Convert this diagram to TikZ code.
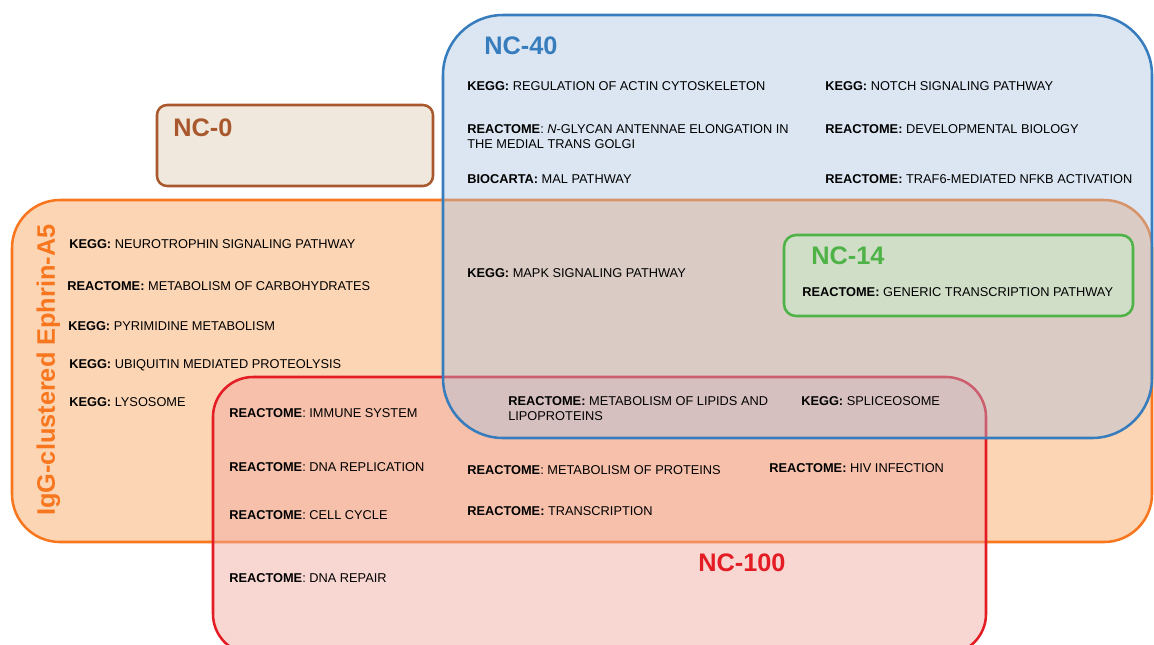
\documentclass[tikz,border=0pt]{standalone}
\usepackage{fontspec}
\setmainfont{Liberation Sans}
\usepackage{xcolor}
\definecolor{ncblue}{RGB}{55,125,190}
\definecolor{ncbluefill}{RGB}{168,193,222}
\definecolor{igorange}{RGB}{247,118,30}
\definecolor{igorangefill}{RGB}{247,150,70}
\definecolor{ncred}{RGB}{228,28,36}
\definecolor{ncredfill}{RGB}{240,169,160}
\definecolor{ncgreen}{RGB}{78,178,70}
\definecolor{ncgreenfill}{RGB}{208,222,200}
\definecolor{ncbrown}{RGB}{168,88,44}
\definecolor{ncbrownfill}{RGB}{241,232,221}
\newcommand{\pwy}[2]{\textbf{#1:} #2}
\newcommand{\pwx}[2]{\textbf{#1}: #2}
\tikzset{
  setbox/.style={draw, line width=1.9pt},
  settitle/.style={anchor=base west, inner sep=0pt, font=\fontsize{19}{22}\selectfont\bfseries},
  termlabel/.style={anchor=base west, inner sep=0pt, text=black, font=\fontsize{9.6}{11.3}\selectfont},
  termblock/.style={termlabel, anchor=north west, align=left},
}

\begin{document}
\begin{tikzpicture}[x=0.75pt, y=-0.75pt]
  \useasboundingbox (0,0) rectangle (1154,644);
  \clip (0,0) rectangle (1154,644);
  % the sets
  \draw[setbox, draw=igorange, fill=igorangefill, fill opacity=0.4, rounded corners=36pt] (12,200) rectangle (1152,542);
  \draw[setbox, draw=ncred, fill=ncredfill, fill opacity=0.48, rounded corners=30pt] (213,377) rectangle (986,654);
  \draw[setbox, draw=ncblue, fill=ncbluefill, fill opacity=0.4, rounded corners=45pt] (443,15) rectangle (1152,438);
  \draw[setbox, draw=ncgreen, fill=ncgreenfill, rounded corners=9pt] (784,235) rectangle (1133,316);
  \draw[setbox, draw=ncbrown, fill=ncbrownfill, rounded corners=7.5pt] (157,105) rectangle (433,186);

  % set titles
  \node (nc40) [settitle, text=ncblue] at (484,54) {NC-40};
  \node (nc0) [settitle, text=ncbrown] at (173,136) {NC-0};
  \node (nc14) [settitle, text=ncgreen] at (811,264) {NC-14};
  \node (nc100) [settitle, text=ncred] at (698,571) {NC-100};
  \node (igg) [settitle, text=igorange, rotate=90] at (55,516) {IgG-clustered Ephrin-A5};

  % NC-40 only
  \node (actin) [termlabel] at (467,90) {\pwy{KEGG}{REGULATION OF ACTIN CYTOSKELETON}};
  \node (notch) [termlabel] at (825,90) {\pwy{KEGG}{NOTCH SIGNALING PATHWAY}};
  \node (glycan) [termblock] at (467,124) {\pwx{REACTOME}{\textit{N}-GLYCAN ANTENNAE ELONGATION IN}\\THE MEDIAL TRANS GOLGI};
  \node (devbio) [termlabel] at (825,133) {\pwy{REACTOME}{DEVELOPMENTAL BIOLOGY}};
  \node (mal) [termlabel] at (467,183) {\pwy{BIOCARTA}{MAL PATHWAY}};
  \node (traf6) [termlabel] at (825,183) {\pwy{REACTOME}{TRAF6-MEDIATED NFKB ACTIVATION}};
  % NC-40 and IgG
  \node (mapk) [termlabel] at (467,277) {\pwy{KEGG}{MAPK SIGNALING PATHWAY}};
  \node (generic) [termlabel] at (802,296) {\pwy{REACTOME}{GENERIC TRANSCRIPTION PATHWAY}};

  % IgG only
  \node (neurotrophin) [termlabel] at (69,248) {\pwy{KEGG}{NEUROTROPHIN SIGNALING PATHWAY}};
  \node (carbo) [termlabel] at (67,290) {\pwy{REACTOME}{METABOLISM OF CARBOHYDRATES}};
  \node (pyrimidine) [termlabel] at (68,330) {\pwy{KEGG}{PYRIMIDINE METABOLISM}};
  \node (ubiquitin) [termlabel] at (69,368) {\pwy{KEGG}{UBIQUITIN MEDIATED PROTEOLYSIS}};
  \node (lysosome) [termlabel] at (69,406) {\pwy{KEGG}{LYSOSOME}};

  % NC-100
  \node (immune) [termlabel] at (229,417) {\pwx{REACTOME}{IMMUNE SYSTEM}};
  \node (lipids) [termblock] at (508,396) {\pwy{REACTOME}{METABOLISM OF LIPIDS AND}\\LIPOPROTEINS};
  \node (spliceosome) [termlabel] at (801,405) {\pwy{KEGG}{SPLICEOSOME}};
  \node (dnarep) [termlabel] at (229,471) {\pwx{REACTOME}{DNA REPLICATION}};
  \node (proteins) [termlabel] at (467,474) {\pwx{REACTOME}{METABOLISM OF PROTEINS}};
  \node (hiv) [termlabel] at (769,472) {\pwy{REACTOME}{HIV INFECTION}};
  \node (cellcycle) [termlabel] at (229,519) {\pwx{REACTOME}{CELL CYCLE}};
  \node (transcription) [termlabel] at (467,515) {\pwy{REACTOME}{TRANSCRIPTION}};
  \node (dnarepair) [termlabel] at (229,582) {\pwx{REACTOME}{DNA REPAIR}};
\end{tikzpicture}
\end{document}
